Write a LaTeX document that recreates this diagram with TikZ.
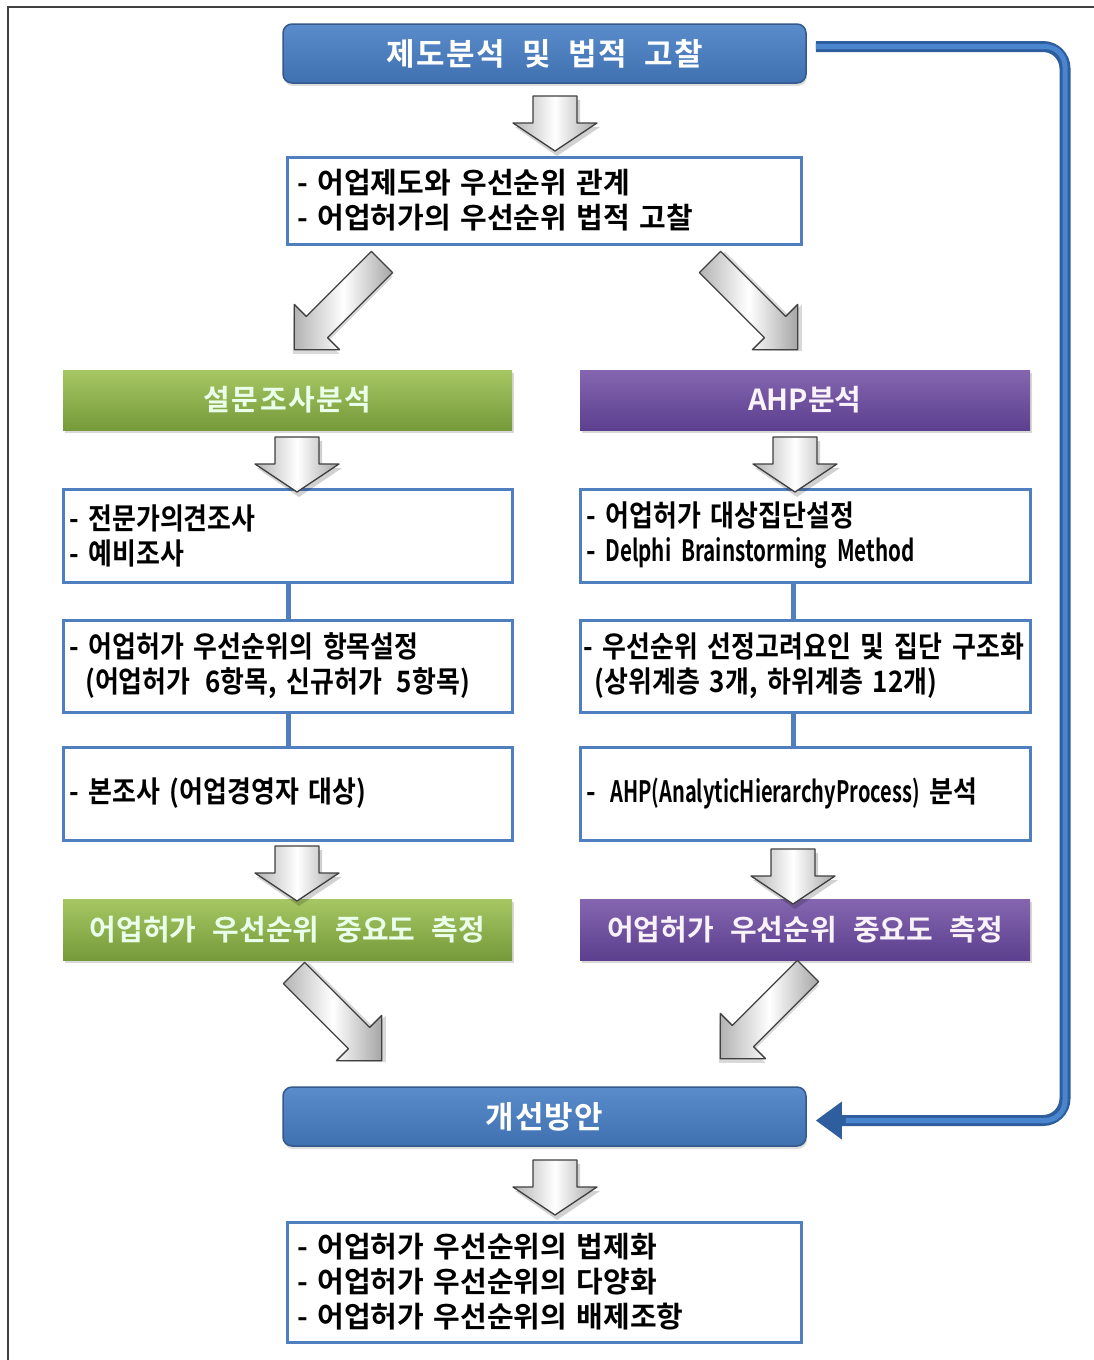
\documentclass[tikz,border=0pt]{standalone}
\usepackage{fontspec}
\newfontfamily\kr{Noto Sans CJK KR}[BoldFont={Noto Sans CJK KR Bold}]
\newfontfamily\krn{Noto Sans CJK KR}[BoldFont={Noto Sans CJK KR Bold}, FakeStretch=0.88]
\usetikzlibrary{shadows,calc,arrows.meta}
\definecolor{blueA}{HTML}{5A8BCB}
\definecolor{blueB}{HTML}{3F70B0}
\definecolor{blueLine}{HTML}{34598A}
\definecolor{bord}{HTML}{4F7FBF}
\definecolor{greenA}{HTML}{A6C763}
\definecolor{greenB}{HTML}{76993A}
\definecolor{purpA}{HTML}{8466B0}
\definecolor{purpB}{HTML}{5C3F8E}
\definecolor{fbDark}{HTML}{2F5E9E}
\definecolor{fbLight}{HTML}{4A86CF}
\begin{document}
\begin{tikzpicture}[x=1pt,y=-1pt,
  hdr/.style={draw=blueLine, line width=1.5pt, rounded corners=9pt,
    top color=blueA, bottom color=blueB, text=white,
    font=\kr\bfseries\fontsize{31}{32}\selectfont,
    drop shadow={opacity=0.25, shadow xshift=1pt, shadow yshift=-3pt}},
  grn/.style={draw=none, top color=greenA, bottom color=greenB, text=white!92!green,
    font=\kr\bfseries\fontsize{29}{30}\selectfont,
    drop shadow={opacity=0.3, shadow xshift=2pt, shadow yshift=-3pt}},
  prp/.style={draw=none, top color=purpA, bottom color=purpB, text=white!95!violet,
    font=\kr\bfseries\fontsize{29}{30}\selectfont,
    drop shadow={opacity=0.3, shadow xshift=2pt, shadow yshift=-3pt}},
  wbox/.style={draw=bord, line width=3pt, fill=white, align=left, text=black,
    inner xsep=6pt},
  wtxt/.style={font=\krn\bfseries\fontsize{29.5}{35}\selectfont},
  ctxt/.style={font=\kr\bfseries\fontsize{29}{35}\selectfont},
  link/.style={draw=bord, line width=5pt},
  pics/downarr/.style={code={
    \fill[black,opacity=0.18] (-20,4) -- (25,4) -- (25,31) -- (45,31) -- (2,60) -- (-40,31) -- (-20,31) -- cycle;
    \shade[left color=gray!60, right color=gray!70, middle color=white,
      draw=black!75, line width=1.3pt, line join=round]
      (-22,0) -- (22,0) -- (22,27) -- (42,27) -- (0,55) -- (-42,27) -- (-22,27) -- cycle;}},
  pics/diagarr/.style={code={
    \fill[black,opacity=0.15] (-13,3) -- (18,3) -- (18,95) -- (35,95) -- (2,128) -- (-30,95) -- (-13,95) -- cycle;
    \shade[left color=gray!60, right color=gray!70, middle color=white,
      draw=black!75, line width=1.3pt, line join=round]
      (-15,0) -- (15,0) -- (15,92) -- (32,92) -- (0,124) -- (-32,92) -- (-15,92) -- cycle;}}
]
\useasboundingbox (0,0) rectangle (1094,1360);
\fill[white] (0,0) rectangle (1094,1360);
% outer frame (left and top edges)
\draw[line width=2pt, black!75] (8,1360) -- (8,7) -- (1094,7);

% top header
\node[hdr, minimum width=523pt, minimum height=59pt] (top) at (544.5,53.5)
  {제\kern1.5pt 도\kern1.5pt 분\kern1.5pt 석\,\, 및\,\, 법\kern1.5pt 적\,\, 고\kern1.5pt 찰};
\node[wbox, ctxt, minimum width=514pt, minimum height=87pt, text width=494pt, inner xsep=10pt] (b2) at (544,200.5)
  {- 어업제도와 우선순위 관계\\- 어업허가의 우선순위 법적 고찰};

% second row headers
\node[grn, minimum width=449pt, minimum height=60pt] (g1) at (287.5,400)
  {설\kern1.5pt 문\kern1.5pt 조\kern1.5pt 사\kern1.5pt 분\kern1.5pt 석};
\node[prp, minimum width=450pt, minimum height=60pt] (p1) at (805,400) {AHP분석};

% left column boxes
\node[wbox, wtxt, minimum width=449pt, minimum height=93pt, text width=437pt] (l1) at (287.5,535.5)
  {- 전문가의견조사\\- 예비조사};
\node[wbox, wtxt, minimum width=449pt, minimum height=92pt, text width=437pt] (l2) at (287.5,666)
  {- 어업허가 우선순위의 항목설정\\\hspace*{0.55em}(어업허가\, 6항목, 신규허가\, 5항목)};
\node[wbox, wtxt, minimum width=449pt, minimum height=93pt, text width=437pt] (l3) at (287.5,793.5)
  {- 본조사 (어업경영자 대상)};

% right column boxes
\node[wbox, wtxt, minimum width=450pt, minimum height=93pt, text width=438pt] (r1) at (805,535.5)
  {- 어업허가 대상집단설정\\- {\addfontfeature{FakeStretch=0.7}Delphi Brainstorming Method}};
\node[wbox, wtxt, minimum width=450pt, minimum height=92pt, text width=444pt, inner xsep=3pt] (r2) at (805,666)
  {\mbox{- 우선순위 선정고려요인 및 집단 구조화}\\\hspace*{0.4em}(상위계층 3개, 하위계층 12개)};
\node[wbox, wtxt, minimum width=450pt, minimum height=93pt, text width=438pt] (r3) at (805,793.5)
  {-\, {\addfontfeature{FakeStretch=0.68}AHP(AnalyticHierarchyProcess)} 분석};

% links between boxes
\draw[link] (l1.south -| 288,0) -- (l2.north -| 288,0);
\draw[link] (l2.south -| 288,0) -- (l3.north -| 288,0);
\draw[link] (r1.south -| 793,0) -- (r2.north -| 793,0);
\draw[link] (r2.south -| 793,0) -- (r3.north -| 793,0);

% result headers
\node[grn, minimum width=449pt, minimum height=61pt] (g2) at (287.5,929.5)
  {어업허가\,\, 우선순위\,\, 중요도\,\, 측정};
\node[prp, minimum width=450pt, minimum height=61pt] (p2) at (805,929.5)
  {어업허가\,\, 우선순위\,\, 중요도\,\, 측정};

% bottom header and final box
\node[hdr, minimum width=523pt, minimum height=59pt] (bot) at (544.5,1116.5)
  {개\kern1pt 선\kern1pt 방\kern1pt 안};
\node[wbox, ctxt, minimum width=514pt, minimum height=120pt, text width=494pt, inner xsep=10pt] (fin) at (544,1282)
  {- 어업허가 우선순위의 법제화\\- 어업허가 우선순위의 다양화\\- 어업허가 우선순위의 배제조항};

% block arrows
\pic at (555,96) {downarr};
\pic at (297,437) {downarr};
\pic at (795,437) {downarr};
\pic at (297,846) {downarr};
\pic at (793,849) {downarr};
\pic at (555,1160) {downarr};
\pic[rotate=-45] at (382,262) {diagarr};
\pic[rotate=45] at (710,262) {diagarr};
\pic[rotate=45] at (294,973) {diagarr};
\pic[rotate=-45] at (808,971) {diagarr};

% feedback connector
\coordinate (fbs) at ($(top.east)+(9,-7)$);
\coordinate (fbe) at ($(bot.east)+(9,4)$);
\draw[fbDark, line width=11pt, rounded corners=22pt, -{Triangle[width=36pt,length=26pt]}]
  (fbs) -- (fbs -| 1065,0) -- (fbe -| 1065,0) -- (fbe);
\draw[fbLight, line width=5pt, rounded corners=20pt]
  (fbs) -- (fbs -| 1065,0) -- (fbe -| 1065,0) -- ($(fbe)+(30,0)$);
\end{tikzpicture}
\end{document}
